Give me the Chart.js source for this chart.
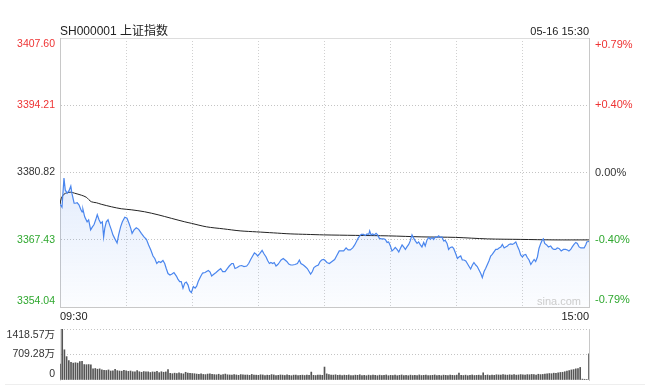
<!DOCTYPE html>
<html lang="zh">
  <head>
    <meta charset="UTF-8" />
    <title>上证指数 分时</title>
    <style>
      body {
        margin: 0;
        background: #fff;
      }
      .wrap {
        position: relative;
        width: 661px;
        height: 385px;
        font-family: Arial, "Liberation Sans", "Noto Sans CJK SC", sans-serif;
      }
      #title {
        position: absolute;
        left: 60px;
        top: 24px;
        font-size: 12px;
        line-height: 14px;
        color: #222;
      }
      #stamp {
        position: absolute;
        right: 72px;
        top: 25px;
        font-size: 11px;
        line-height: 13px;
        color: #222;
      }
      #sina {
        position: absolute;
        left: 537px;
        top: 295px;
        font-size: 11px;
        line-height: 13px;
        color: #ccc;
      }
      #priceChart {
        position: absolute;
        left: 0;
        top: 0;
      }
      #volChart {
        position: absolute;
        left: 0;
        top: 320px;
      }
      .sep {
        position: absolute;
        left: 5px;
        top: 384px;
        width: 640px;
        border-top: 1px solid #eee;
      }
    </style>
  </head>
  <body>
    <div class="wrap">
      <canvas id="priceChart" width="661" height="325"></canvas>
      <canvas id="volChart" width="661" height="65"></canvas>
      <div id="title">SH000001 上证指数</div>
      <div id="stamp">05-16 15:30</div>
      <div id="sina">sina.com</div>
      <div class="sep"></div>
    </div>
  </body>
  <script src="https://cdn.jsdelivr.net/npm/chart.js"></script>

  <script>
    const prevClose = 3380.82;
    const priceTicks = [3354.04, 3367.43, 3380.82, 3394.21, 3407.6];
    const pctLabels = ["-0.79%", "-0.40%", "0.00%", "+0.40%", "+0.79%"];
    const gridMinutes = [0, 30, 60, 90, 120, 150, 180, 210, 240];
    const timeLabels = ["09:30", "15:00"];

    // minute index (0 = 09:30, 240 = 15:00) and index value
    const priceMinutes = [
      0, 0.9, 1.8, 2.4, 3.3, 4.1, 4.9, 5.4, 6.4, 6.9, 7.8, 8.6, 9.4, 10.0, 10.4, 11.2, 12.3, 13.0, 13.9, 14.7,
      15.4, 16.2, 16.9, 17.7, 18.5, 19.2, 19.8, 20.3, 21.0, 21.8, 22.5, 23.3, 24.0, 24.8, 25.9, 26.6, 27.5, 28.3, 29.4, 30.4,
      31.3, 32.1, 32.7, 33.6, 34.6, 35.7, 36.9, 38.1, 39.2, 40.2, 41.2, 42.2, 43.0, 43.9, 44.8, 45.7, 46.7, 47.5, 48.2, 49.0,
      49.9, 50.8, 51.7, 52.8, 53.5, 54.3, 55.0, 55.8, 56.6, 57.3, 58.1, 58.8, 59.6, 60.5, 61.3, 62.0, 62.7, 63.8, 64.7, 65.8,
      66.5, 67.3, 68.1, 68.8, 69.9, 70.8, 71.8, 72.9, 73.8, 74.9, 75.9, 76.8, 77.9, 78.6, 79.4, 80.4, 81.4, 82.4, 83.5, 84.7,
      85.6, 86.5, 87.4, 88.2, 88.9, 89.7, 90.7, 91.7, 92.6, 93.5, 94.2, 95.0, 95.7, 96.5, 97.2, 98.0, 98.8, 99.5, 100.3, 101.3,
      102.1, 102.9, 103.8, 104.7, 105.6, 106.6, 107.7, 108.6, 109.3, 110.4, 111.2, 112.2, 113.0, 113.7, 114.5, 115.2, 116.2, 117.2, 118.0, 118.7,
      119.5, 120.1, 121.1, 122.2, 123.4, 124.6, 125.7, 126.7, 127.6, 128.7, 129.8, 130.7, 131.7, 132.8, 133.7, 134.4, 135.2, 136.0, 136.7, 137.8,
      138.5, 139.3, 140.1, 140.5, 141.1, 141.9, 142.6, 143.4, 144.1, 144.9, 145.8, 146.9, 147.6, 148.4, 149.1, 149.9, 150.6, 151.4, 152.1, 152.9,
      153.7, 154.4, 155.2, 155.9, 156.7, 157.4, 158.2, 158.9, 159.7, 160.5, 161.2, 162.0, 162.7, 163.5, 164.2, 165.0, 165.7, 166.5, 167.3, 168.0,
      168.8, 169.5, 170.3, 171.0, 171.8, 172.5, 173.3, 174.1, 174.8, 175.6, 176.3, 177.1, 177.9, 178.6, 179.5, 180.3, 181.0, 181.8, 182.5, 183.3,
      184.1, 184.8, 185.6, 186.3, 187.1, 187.8, 188.6, 189.3, 190.1, 190.9, 191.6, 192.4, 193.1, 193.9, 194.6, 195.4, 196.1, 196.9, 197.7, 198.4,
      199.2, 200.0, 200.7, 201.5, 202.2, 203.0, 203.7, 204.5, 205.2, 206.0, 206.8, 207.5, 208.3, 209.0, 209.8, 210.5, 211.3, 212.0, 212.8, 213.6,
      214.3, 215.1, 215.8, 216.6, 217.3, 218.1, 218.8, 219.3, 219.9, 220.8, 221.6, 222.6, 223.4, 224.1, 224.9, 225.6, 226.4, 227.4, 228.4, 229.4,
      230.2, 230.9, 231.7, 232.4, 233.2, 234.0, 234.7, 235.5, 236.3, 237.0, 237.8, 238.6, 239.0, 240,
    ];
    const priceValues = [
      3374.5, 3373.9, 3379.7, 3377.3, 3376.7, 3377.2, 3378.1, 3376.7, 3374.7, 3374.7, 3374.8, 3374.4, 3373.5, 3373.0, 3373.5, 3372.0, 3371.0, 3371.4, 3369.4, 3370.0,
      3370.4, 3371.4, 3372.4, 3371.4, 3370.7, 3371.0, 3368.0, 3369.7, 3371.0, 3371.4, 3370.4, 3369.4, 3368.4, 3367.7, 3366.8, 3368.4, 3370.0, 3371.0, 3371.9, 3371.7,
      3370.7, 3369.7, 3368.7, 3369.4, 3369.8, 3369.5, 3368.7, 3368.0, 3367.5, 3366.4, 3365.4, 3364.2, 3363.7, 3362.7, 3363.1, 3362.9, 3363.3, 3362.7, 3361.7, 3360.7,
      3360.4, 3360.6, 3360.9, 3360.2, 3359.6, 3359.1, 3359.1, 3357.8, 3358.8, 3359.0, 3358.4, 3357.3, 3356.9, 3358.1, 3357.8, 3358.2, 3359.1, 3360.1, 3360.8, 3360.9,
      3361.1, 3361.3, 3361.0, 3360.2, 3360.6, 3360.9, 3361.3, 3361.7, 3361.1, 3361.1, 3361.7, 3362.2, 3362.7, 3362.7, 3361.7, 3361.9, 3362.2, 3362.3, 3362.1, 3362.2,
      3362.7, 3363.5, 3364.2, 3364.8, 3364.6, 3364.2, 3364.7, 3365.3, 3364.6, 3364.0, 3363.3, 3362.7, 3362.9, 3362.7, 3362.9, 3362.2, 3362.5, 3362.9, 3363.4, 3363.7,
      3363.4, 3363.1, 3362.6, 3362.4, 3362.4, 3362.5, 3362.7, 3363.4, 3362.7, 3362.4, 3362.1, 3361.7, 3361.1, 3360.6, 3361.1, 3361.9, 3362.2, 3362.4, 3363.1, 3363.4,
      3363.5, 3363.4, 3362.9, 3362.7, 3363.1, 3363.5, 3364.4, 3365.2, 3365.2, 3365.2, 3365.8, 3365.4, 3365.4, 3365.8, 3366.4, 3367.0, 3367.7, 3368.2, 3368.5, 3368.5,
      3368.3, 3368.6, 3368.5, 3369.2, 3368.4, 3368.6, 3368.4, 3368.7, 3368.4, 3367.7, 3367.6, 3367.6, 3367.5, 3366.9, 3367.0, 3366.2, 3365.2, 3365.5, 3365.9, 3365.5,
      3365.0, 3365.7, 3366.4, 3366.0, 3365.5, 3366.0, 3366.5, 3367.2, 3368.4, 3367.7, 3367.2, 3366.7, 3367.0, 3366.4, 3366.0, 3366.9, 3366.2, 3367.4, 3367.9, 3367.5,
      3367.9, 3367.5, 3368.0, 3367.9, 3368.2, 3367.9, 3368.0, 3367.2, 3367.3, 3366.7, 3365.5, 3365.9, 3366.0, 3365.7, 3364.7, 3363.7, 3364.0, 3364.2, 3363.4, 3363.4,
      3363.2, 3362.7, 3362.1, 3361.6, 3362.4, 3362.9, 3362.4, 3362.1, 3361.4, 3360.7, 3359.9, 3361.1, 3361.7, 3362.5, 3363.2, 3364.2, 3364.5, 3365.0, 3365.5, 3365.5,
      3365.8, 3366.0, 3366.5, 3365.8, 3366.0, 3366.2, 3366.5, 3366.6, 3366.5, 3366.7, 3367.0, 3366.2, 3365.4, 3364.4, 3364.0, 3364.4, 3364.5, 3363.9, 3363.4, 3362.5,
      3363.0, 3363.5, 3363.1, 3364.0, 3365.7, 3366.7, 3367.4, 3367.6, 3366.7, 3366.4, 3366.0, 3366.2, 3365.7, 3365.5, 3365.5, 3365.8, 3365.7, 3365.2, 3365.5, 3365.5,
      3365.4, 3365.2, 3365.5, 3366.0, 3366.5, 3366.9, 3366.7, 3366.0, 3365.8, 3365.8, 3365.8, 3366.5, 3367.0, 3367.1,
    ];

    const avgMinutes = [
      0, 0.6, 1.8, 3.3, 4.9, 6.6, 9.7, 11.9, 14.2, 16.5, 18.7, 23.3, 27.8, 32.3, 38.4, 44.5, 50.5, 56.6,
      59.6, 66.5, 74.1, 81.7, 89.2, 96.8, 104.4, 111.9, 119.5, 134, 149.1, 164.2, 179.4, 193.9, 209, 224.1, 240,
    ];
    const avgValues = [
      3374.5, 3375.7, 3376.5, 3376.8, 3376.9, 3376.7, 3376.3, 3375.9, 3375.0, 3374.8, 3374.5, 3374.0, 3373.6, 3373.4,
      3373.0, 3372.4, 3371.7, 3371.0, 3370.7, 3370.0, 3369.6, 3369.2, 3369.0, 3368.8, 3368.6, 3368.5, 3368.4, 3368.3,
      3368.2, 3368.0, 3367.9, 3367.6, 3367.5, 3367.4, 3367.4,
    ];

    // volume per minute, in 万
    const volume = [
      440, 1418, 840, 650, 540, 490, 470, 480, 470, 510,
      520, 430, 425, 430, 420, 310, 320, 300, 310, 280,
      270, 265, 280, 250, 255, 300, 260, 250, 245, 270,
      255, 240, 250, 230, 225, 260, 230, 215, 235, 225,
      230, 210, 225, 220, 240, 205, 230, 215, 225, 290,
      185, 175, 190, 180, 200, 180, 170, 215, 190, 185,
      180, 175, 165, 160, 170, 155, 150, 165, 175, 160,
      150, 145, 160, 140, 150, 165, 145, 140, 135, 150,
      140, 130, 150, 145, 135, 140, 130, 155, 140, 135,
      130, 145, 140, 125, 135, 130, 150, 140, 125, 130,
      140, 135, 125, 145, 130, 120, 135, 140, 125, 130,
      135, 125, 140, 130, 220, 130, 125, 140, 135, 130,
      360,
      170, 150, 140, 135, 145, 130, 140, 125, 135, 130,
      140, 125, 120, 135, 130, 145, 125, 130, 120, 135,
      125, 140, 130, 120, 135, 125, 130, 140, 120, 130,
      125, 135, 120, 130, 140, 125, 130, 120, 135, 125,
      130, 120, 140, 125, 130, 135, 120, 125, 130, 140,
      125, 130, 120, 135, 130, 125, 140, 130, 125, 135,
      190, 130, 125, 135, 120, 130, 140, 125, 130, 135,
      125, 200, 130, 140, 125, 135, 130, 145, 140, 135,
      150, 140, 135, 145, 140, 150, 135, 140, 150, 145,
      140, 150, 145, 155, 150, 140, 160, 150, 155, 165,
      170, 180, 175, 190, 185, 200, 210, 215, 230, 245,
      260, 280, 290, 310, 320, 350, 25, 20, 15, 730,
    ];
    const volTicks = [0, 709.28, 1418.57];
    const volLabels = ["0", "709.28万", "1418.57万"];

    const RED = "#ee3333";
    const GREEN = "#2fa82f";

    function levelColor(v) {
      if (v > prevClose) return RED;
      if (v < prevClose) return GREEN;
      return "#333";
    }

    // end labels sit inside the plot, like the original
    function edgeLabel(text, i, n) {
      if (i === n - 1) return ["", text];
      if (i === 0) return [text, ""];
      return text;
    }

    function fixTicks(list) {
      return (axis) => {
        axis.ticks = list.map((v) => ({ value: v }));
      };
    }

    function drawPrice() {
      const ctx = document.getElementById("priceChart");
      new Chart(ctx, {
        type: "line",
        data: {
          datasets: [
            {
              data: priceMinutes.map((m, i) => ({ x: m, y: priceValues[i] })),
              borderColor: "#4a86ee",
              borderWidth: 1.2,
              pointRadius: 0,
              tension: 0,
              fill: "start",
              backgroundColor: (c) => {
                const area = c.chart.chartArea;
                if (!area) return "rgba(74,134,238,0.08)";
                const g = c.chart.ctx.createLinearGradient(0, area.top + 130, 0, area.bottom);
                g.addColorStop(0, "rgba(74,134,238,0.16)");
                g.addColorStop(1, "rgba(74,134,238,0.02)");
                return g;
              },
              order: 1,
            },
            {
              data: avgMinutes.map((m, i) => ({ x: m, y: avgValues[i] })),
              borderColor: "#222",
              borderWidth: 1,
              pointRadius: 0,
              tension: 0.3,
              fill: false,
              order: 2,
            },
          ],
        },
        options: {
          responsive: false,
          animation: false,
          layout: { padding: { top: 38, left: 0, right: 0, bottom: 0 } },
          plugins: { legend: { display: false }, tooltip: { enabled: false } },
          scales: {
            x: {
              type: "linear",
              position: "bottom",
              min: 0,
              max: 240,
              afterBuildTicks: fixTicks(gridMinutes),
              afterFit: (a) => {
                a.height = 18;
                a.paddingLeft = 0;
                a.paddingRight = 0;
              },
              ticks: {
                autoSkip: false,
                maxRotation: 0,
                align: "inner",
                padding: 3,
                color: "#222",
                font: { size: 11, family: "Arial, 'Liberation Sans'" },
                callback: (v) => (v === 0 ? timeLabels[0] : v === 240 ? timeLabels[1] : ""),
              },
              grid: { color: "#d0d0d0", drawTicks: false },
              border: { color: "#c8c8c8", dash: [1, 2] },
            },
            xTop: {
              type: "linear",
              position: "top",
              min: 0,
              max: 240,
              afterFit: (a) => {
                a.height = 0;
              },
              ticks: { display: false },
              grid: { display: false, drawTicks: false },
              border: { color: "#dddddd" },
            },
            y: {
              position: "left",
              min: 3354.04,
              max: 3407.6,
              afterBuildTicks: fixTicks(priceTicks),
              afterFit: (a) => {
                a.width = 60;
                a.paddingTop = 0;
                a.paddingBottom = 0;
              },
              ticks: {
                autoSkip: false,
                padding: 5,
                font: { size: 10.5, family: "Arial, 'Liberation Sans'" },
                color: (c) => levelColor(c.tick.value),
                callback: (v, i, t) => edgeLabel(priceTicks[i].toFixed(2), i, t.length),
              },
              grid: { color: "#c4c4c4", drawTicks: false },
              border: { color: "#c8c8c8", dash: [1, 2] },
            },
            y2: {
              position: "right",
              min: 3354.04,
              max: 3407.6,
              afterBuildTicks: fixTicks(priceTicks),
              afterFit: (a) => {
                a.width = 72;
                a.paddingTop = 0;
                a.paddingBottom = 0;
              },
              ticks: {
                autoSkip: false,
                padding: 6,
                font: { size: 11, family: "Arial, 'Liberation Sans'" },
                color: (c) => levelColor(c.tick.value),
                callback: (v, i, t) => edgeLabel(pctLabels[i], i, t.length),
              },
              grid: { display: false, drawTicks: false },
              border: { color: "#c8c8c8" },
            },
          },
        },
      });
    }

    function drawVolume() {
      const ctx = document.getElementById("volChart");
      new Chart(ctx, {
        type: "bar",
        data: {
          datasets: [
            {
              data: volume.map((v, i) => ({ x: i, y: v })),
              backgroundColor: "#555",
              barThickness: 1,
            },
          ],
        },
        options: {
          responsive: false,
          animation: false,
          layout: { padding: { top: 9, bottom: 5, left: 0, right: 0 } },
          plugins: { legend: { display: false }, tooltip: { enabled: false } },
          scales: {
            x: {
              type: "linear",
              min: 0,
              max: 240,
              offset: false,
              display: false,
              grid: { offset: false },
            },
            y: {
              position: "left",
              min: 0,
              max: 1418.57,
              afterBuildTicks: fixTicks(volTicks),
              afterFit: (a) => {
                a.width = 60;
                a.paddingTop = 0;
                a.paddingBottom = 0;
              },
              ticks: {
                autoSkip: false,
                padding: 5,
                color: "#333",
                font: { size: 10.5, family: "Arial, 'Liberation Sans', 'Noto Sans CJK SC'" },
                callback: (v, i, t) => edgeLabel(volLabels[i], i, t.length),
              },
              grid: {
                drawTicks: false,
                color: (c) => (c.tick && c.tick.value === 0 ? "rgba(0,0,0,0)" : "#c4c4c4"),
              },
              border: { color: "#dddddd", dash: [1, 2] },
            },
            y2: {
              position: "right",
              min: 0,
              max: 1418.57,
              afterFit: (a) => {
                a.width = 72;
                a.paddingTop = 0;
                a.paddingBottom = 0;
              },
              ticks: { display: false },
              grid: { display: false, drawTicks: false },
              border: { color: "#c8c8c8" },
            },
          },
        },
      });
    }

    drawPrice();
    drawVolume();
  </script>
</html>
